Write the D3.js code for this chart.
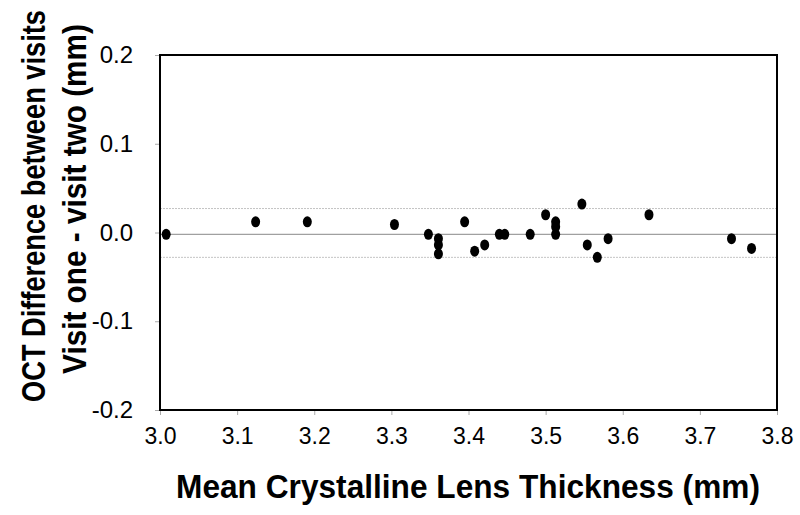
<!DOCTYPE html>
<html><head><meta charset="utf-8">
<script src="https://cdn.jsdelivr.net/npm/d3@7"></script>
<style>body{margin:0;background:#fff}svg{display:block}</style>
</head><body><svg id="c" width="800" height="515"></svg>
<script>
const lensThickness = [3.008,3.124,3.191,3.304,3.348,3.361,3.361,3.361,3.395,3.408,3.421,3.440,3.447,3.480,3.500,3.513,3.513,3.513,3.547,3.554,3.567,3.581,3.634,3.741,3.767];
const visitDifference = [-0.002,0.012,0.012,0.009,-0.002,-0.007,-0.014,-0.024,0.012,-0.021,-0.014,-0.002,-0.002,-0.002,0.020,0.012,0.0065,-0.002,0.032,-0.014,-0.028,-0.007,0.020,-0.007,-0.018];
const xTicks = [3.0,3.1,3.2,3.3,3.4,3.5,3.6,3.7,3.8];
const yTicks = [0.2,0.1,0.0,-0.1,-0.2];
const limitLines = [0.027,-0.028];
const meanLine = [-0.002];

const svg = d3.select('#c');
const L=160,R=777,T=55,B=410;
const x = d3.scaleLinear().domain([3.0,3.8]).range([L,R]);
const y = d3.scaleLinear().domain([-0.2,0.2]).range([B,T]);
const font='Liberation Sans, Arial, sans-serif';

svg.append('g').selectAll('line.lim').data(limitLines).join('line')
  .attr('x1',L).attr('x2',R).attr('y1',d=>y(d)).attr('y2',d=>y(d))
  .attr('stroke','#c4c4c4').attr('stroke-width',1).attr('stroke-dasharray','2,1');
svg.append('g').selectAll('line.mean').data(meanLine).join('line')
  .attr('x1',L).attr('x2',R).attr('y1',d=>y(d)).attr('y2',d=>y(d))
  .attr('stroke','#a0a0a0').attr('stroke-width',1.3);

const xa = svg.append('g').attr('transform',`translate(0,${B})`)
  .call(d3.axisBottom(x).tickValues(xTicks).tickFormat(d3.format('.1f')).tickSize(5).tickPadding(13));
const ya = svg.append('g').attr('transform',`translate(${L},0)`)
  .call(d3.axisLeft(y).tickValues(yTicks).tickFormat(d=>d3.format('.1f')(d).replace('−','-')).tickSize(5).tickPadding(22));
[xa,ya].forEach(a=>{
  a.select('.domain').remove();
  a.selectAll('.tick line').attr('stroke','#aaa');
  a.selectAll('.tick text').attr('font-family',font).attr('font-size',24).attr('fill','#000');
});
xa.selectAll('.tick text').attr('font-size',23);

svg.append('rect').attr('x',L).attr('y',T).attr('width',R-L).attr('height',B-T)
  .attr('fill','none').attr('stroke','#000').attr('stroke-width',2);

svg.append('g').selectAll('ellipse').data(lensThickness).join('ellipse')
  .attr('cx',(d)=>x(d)).attr('cy',(d,i)=>y(visitDifference[i]))
  .attr('rx',4.5).attr('ry',5.5).attr('fill','#000');

function title(txt, tx, ty, rot, target){
  const t = svg.append('text').attr('text-anchor','middle')
    .attr('font-family',font).attr('font-weight','bold').attr('font-size',33).text(txt);
  const s = target / t.node().getComputedTextLength();
  t.attr('transform',`translate(${tx},${ty}) rotate(${rot}) scale(${s},1)`);
}
title('Mean Crystalline Lens Thickness (mm)', 468, 498, 0, 584);
title('OCT Difference between visits', 45, 206, -90, 392);
title('Visit one - visit two (mm)', 86, 199, -90, 350);
</script></body></html>
